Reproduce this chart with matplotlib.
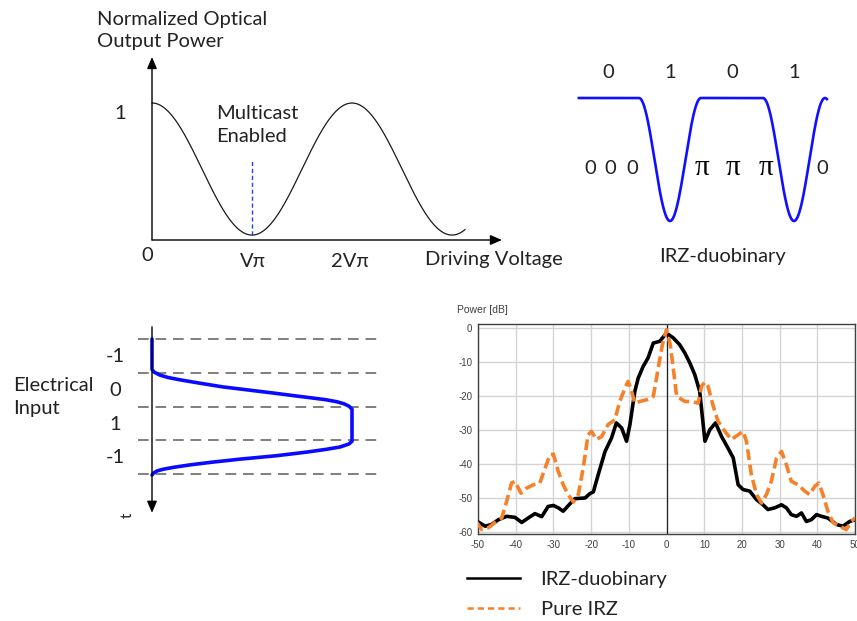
import numpy as np
import matplotlib
matplotlib.use("Agg")
import matplotlib.pyplot as plt
from matplotlib.lines import Line2D

plt.rcParams["axes.unicode_minus"] = False

W, H = 857, 621
fig = plt.figure(figsize=(W / 100, H / 100), dpi=100)
fig.patch.set_facecolor("white")

SANS = ["Lato", "DejaVu Sans"]
SERIF = ["Liberation Serif", "DejaVu Serif"]
SMALL = ["Liberation Sans", "DejaVu Sans"]
TXT = "#222222"


def px_axes(x0, y0, x1, y1):
    """Axes whose box spans the given pixel rectangle (origin top-left)."""
    ax = fig.add_axes([x0 / W, 1 - y1 / H, (x1 - x0) / W, (y1 - y0) / H])
    ax.set_facecolor("none")
    return ax


# ---------------- data ----------------
# Modulator transfer curve: drive voltage in units of V_pi
v_end = 3.13
p_floor = 0.036
multicast_bias = 1.0
multicast_top = 0.58

# IRZ-duobinary pattern
bits = [0, 1, 0, 1]
bit_labels = ["0", "1", "0", "1"]
phase_labels = ["0", "0", "0", "π", "π", "π", "0"]
phase_pos = [0.21, 0.53, 0.89, 2.02, 2.52, 3.05, 3.95]

# Electrical drive waveform (normalised level vs. time slot)
drive_level = [0, 0, 0.01, 0.04, 0.08, 0.14, 0.25, 0.355, 0.48, 0.605,
               0.71, 0.805, 0.87, 0.925, 0.96, 0.985, 1.0,
               1.0, 0.985, 0.94, 0.87, 0.775, 0.62, 0.44, 0.30, 0.19,
               0.11, 0.055, 0.025, 0.008, 0.0]
drive_time = [0, 0.90, 0.98, 1.07, 1.14, 1.21, 1.32, 1.42, 1.51, 1.60,
              1.68, 1.75, 1.80, 1.86, 1.92, 1.99, 2.08,
              3.03, 3.11, 3.20, 3.27, 3.35, 3.46, 3.56, 3.65, 3.73,
              3.80, 3.86, 3.91, 3.97, 4.03]
drive_symbols = ["-1", "0", "1", "-1"]

# Optical spectra (frequency offset, power in dB)
f_duo = [-50.5, -48.1, -46.4, -44.6, -42.4, -40.2, -38.4, -36.7, -34.9, -33.1,
         -31.4, -30.0, -28.7, -27.4, -26.1, -24.3, -21.6, -20.3, -19.4, -18.1,
         -16.3, -14.6, -13.3, -11.9, -10.6, -9.7, -8.4, -7.5, -6.2, -4.9,
         -3.5, -1.8, -0.4, 0.4, 1.8, 3.5, 4.9, 6.2, 7.5, 8.8,
         10.2, 11.5, 13.0, 14.6, 16.3, 17.7, 19.0, 20.3, 22.1, 23.9,
         25.6, 26.9, 28.7, 30.5, 31.8, 33.1, 34.5, 35.8, 37.1, 38.4,
         39.8, 41.1, 42.8, 45.1, 46.8, 48.6, 50.0]
p_duo = [-56.7, -58.3, -57.8, -56.4, -55.4, -55.7, -57.2, -55.9, -54.6, -55.5,
         -52.5, -52.2, -52.9, -53.9, -52.3, -50.2, -50.0, -48.7, -48.2, -43.1,
         -36.3, -32.4, -27.9, -29.4, -33.3, -28.4, -18.6, -14.7, -11.3, -8.8,
         -4.4, -3.9, -2.0, -1.8, -2.9, -4.9, -7.4, -10.3, -13.7, -18.6,
         -33.3, -29.9, -27.9, -31.9, -35.3, -38.2, -46.1, -47.5, -48.0, -50.5,
         -52.0, -53.4, -52.9, -52.0, -52.9, -54.9, -55.4, -54.4, -56.9, -56.4,
         -54.9, -55.4, -55.9, -57.8, -58.3, -56.9, -56.4]

f_irz = [-50.5, -49.0, -47.3, -45.1, -43.7, -42.4, -41.1, -40.2, -38.6, -37.1,
         -35.3, -33.6, -32.2, -30.9, -30.0, -28.7, -27.4, -26.1, -24.7, -23.4,
         -22.1, -20.8, -19.9, -18.6, -17.2, -15.5, -13.7, -12.4, -11.0, -10.2,
         -9.5, -8.4, -7.1, -5.3, -3.5, -2.2, -1.1, 0.0, 1.0, 1.8,
         2.7, 4.9, 6.6, 8.4, 9.3, 10.2, 11.0, 12.4, 13.7, 15.5,
         17.2, 19.0, 20.3, 21.2, 22.5, 23.9, 25.2, 26.5, 27.8, 29.2,
         30.5, 31.8, 33.1, 34.9, 36.7, 38.0, 39.3, 40.4, 41.5, 42.8,
         44.2, 45.9, 47.7, 49.0, 50.0]
p_irz = [-56.9, -59.3, -58.8, -56.9, -55.9, -51.0, -45.6, -45.1, -48.6, -47.1,
         -46.1, -45.6, -41.2, -37.3, -37.1, -42.2, -46.1, -49.0, -51.2, -49.0,
         -41.2, -31.4, -30.4, -32.8, -31.9, -28.4, -27.0, -21.6, -17.6, -15.7,
         -17.6, -22.1, -21.6, -21.1, -20.1, -11.8, -4.9, -0.5, -4.9, -11.8,
         -20.1, -21.6, -21.6, -22.1, -17.1, -15.9, -17.1, -23.0, -27.5, -30.4,
         -32.8, -31.4, -30.4, -33.3, -43.1, -49.0, -51.5, -49.0, -45.1, -38.2,
         -36.3, -40.2, -45.1, -46.1, -48.0, -49.0, -46.6, -45.6, -49.0, -53.9,
         -57.3, -58.3, -59.3, -56.9, -55.9]

f_ticks = list(range(-50, 51, 10))
p_ticks = list(range(0, -61, -10))
series_names = ["IRZ-duobinary", "Pure IRZ"]

fs_big = 14.5
LS = 1.37

# ---------------- panel: modulator transfer function ----------------
ax1 = px_axes(152, 57, 502, 240)
ax1.set_xlim(0, 3.5)
ax1.set_ylim(0, 1.336)
ax1.axis("off")
v = np.linspace(0, v_end, 400)
p = p_floor + (1 - p_floor) * np.cos(np.pi * v / 2) ** 2
ax1.plot(v, p, color="#1a1a1a", lw=0.9, clip_on=False)
ax1.plot([multicast_bias, multicast_bias], [p_floor, multicast_top],
         color="#1f3fff", lw=1.0, ls=(0, (3, 2)), clip_on=False)
arrow = dict(arrowstyle="-|>,head_length=0.7,head_width=0.3", color="black",
             lw=1.0, shrinkA=0, shrinkB=0)
ax1.annotate("", xy=(0, 1.336), xytext=(0, 0), arrowprops=arrow,
             annotation_clip=False)
ax1.annotate("", xy=(3.5, 0), xytext=(0, 0), arrowprops=arrow,
             annotation_clip=False)
ax1.text(-0.55, 1.53, "Normalized Optical\nOutput Power", ha="left",
         va="center", fontsize=fs_big, family=SANS, color=TXT, linespacing=LS)
ax1.text(-0.32, 0.927, "1", ha="center", va="center", fontsize=fs_big,
         family=SANS, color=TXT)
ax1.text(-0.05, -0.11, "0", ha="center", va="center", fontsize=fs_big,
         family=SANS, color=TXT)
ax1.text(1.01, -0.16, "Vπ", ha="center", va="center", fontsize=fs_big,
         family=SANS, color=TXT)
ax1.text(1.98, -0.16, "2Vπ", ha="center", va="center", fontsize=fs_big,
         family=SANS, color=TXT)
ax1.text(3.42, -0.14, "Driving Voltage", ha="center", va="center",
         fontsize=fs_big, family=SANS, color=TXT)
ax1.text(0.64, 0.84, "Multicast\nEnabled", ha="left", va="center",
         fontsize=fs_big, family=SANS, color=TXT, linespacing=LS)

# ---------------- panel: IRZ-duobinary waveform ----------------
ax2 = px_axes(577, 98, 825, 221)
ax2.set_xlim(0, 4)
ax2.set_ylim(0, 1)
ax2.axis("off")
t = np.linspace(0.03, 4.03, 800)
slot = np.clip(np.floor(t).astype(int), 0, len(bits) - 1)
dip = np.array(bits)[slot] == 1
intensity = np.where(dip, np.cos(np.pi * (t - np.floor(t))) ** 2, 1.0)
ax2.plot(t, intensity, color="#1010ff", lw=1.9, clip_on=False)
for k, lab in enumerate(bit_labels):
    ax2.text(k + 0.5, 1.21, lab, ha="center", va="center", fontsize=fs_big,
             family=SANS, color=TXT)
for pos, lab in zip(phase_pos, phase_labels):
    if lab == "π":
        ax2.text(pos, 0.43, lab, ha="center", va="center", fontsize=21,
                 family=SERIF, color="black")
    else:
        ax2.text(pos, 0.43, lab, ha="center", va="center", fontsize=fs_big,
                 family=SANS, color=TXT)
ax2.text(2.34, -0.29, "IRZ-duobinary", ha="center", va="center",
         fontsize=fs_big, family=SANS, color=TXT)

# ---------------- panel: electrical input ----------------
ax3 = px_axes(152, 339, 352, 474)
ax3.set_xlim(0, 1)
ax3.set_ylim(4, 0)
ax3.axis("off")
for lvl in range(5):
    ax3.plot([-0.07, 1.155], [lvl, lvl], color="#7f7f7f", lw=1.4,
             ls=(0, (5.5, 3.5)), clip_on=False)
ax3.annotate("", xy=(0, 5.15), xytext=(0, -0.36),
             arrowprops=dict(arrowstyle="-|>,head_length=0.7,head_width=0.3",
                             color="black", lw=1.0, shrinkA=0, shrinkB=0),
             annotation_clip=False)
ax3.plot(drive_level, drive_time, color="#0a0aff", lw=2.6, clip_on=False,
         solid_joinstyle="round", solid_capstyle="round")
for k, lab in enumerate(drive_symbols):
    ax3.text(-0.185, k + 0.52, lab, ha="center", va="center", fontsize=fs_big,
             family=SANS, color=TXT)
ax3.text(-0.695, 1.72, "Electrical\nInput", ha="left", va="center",
         fontsize=fs_big, family=SANS, color=TXT, linespacing=LS)
ax3.text(-0.12, 5.22, "t", ha="center", va="center", rotation=90,
         fontsize=11, family=SANS, color=TXT)

# ---------------- panel: optical spectrum ----------------
ax4 = px_axes(478, 324, 855, 534)
ax4.set_xlim(-50, 50)
ax4.set_ylim(-60.6, 1.2)
ax4.set_facecolor("white")
ax4.set_xticks(f_ticks)
ax4.set_yticks(p_ticks)
ax4.tick_params(length=0, labelsize=7, labelcolor="#404040", pad=4)
for lab in ax4.get_xticklabels() + ax4.get_yticklabels():
    lab.set_family(SMALL)
ax4.grid(True, color="#d4d4d4", lw=1.0)
ax4.set_axisbelow(True)
for s in ax4.spines.values():
    s.set_color("#404040")
    s.set_linewidth(1.0)
ax4.axvline(0, color="#202020", lw=0.9, zorder=2)
ax4.plot(f_duo, p_duo, color="black", lw=2.6, zorder=3,
         solid_joinstyle="round")
ax4.plot(f_irz, p_irz, color="#f5822a", lw=2.6, ls=(0, (3.0, 1.3)), zorder=4)
ax4.text(-0.056, 1.067, "Power [dB]", transform=ax4.transAxes, ha="left",
         va="center", fontsize=7.5, family=SMALL, color="#404040")

handles = [Line2D([], [], color="black", lw=1.8),
           Line2D([], [], color="#f5822a", lw=1.8, ls=(0, (2.5, 1.6)))]
fig.legend(handles, series_names, loc="upper left",
           bbox_to_anchor=(467 / W, 1 - 571 / H), frameon=False,
           prop=dict(family=SANS, size=fs_big), handlelength=2.65,
           handletextpad=1.0, labelspacing=0.62, borderpad=0,
           borderaxespad=0, labelcolor=TXT)

fig.savefig("out.png", dpi=100, facecolor="white")
